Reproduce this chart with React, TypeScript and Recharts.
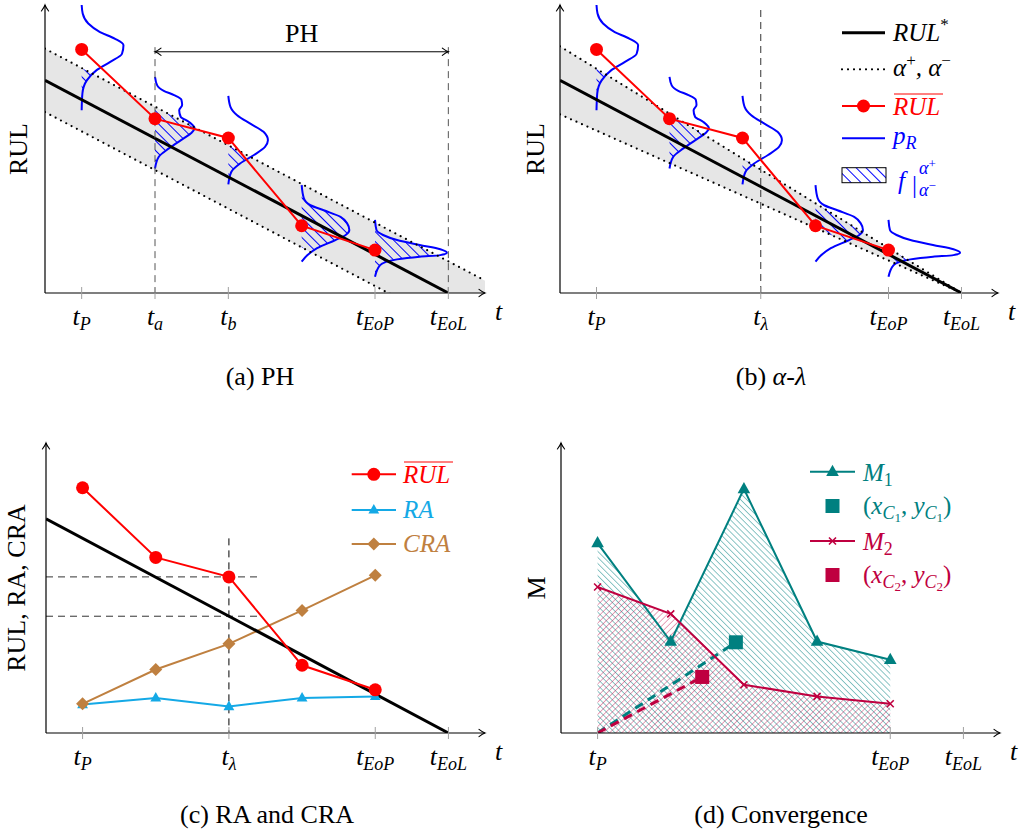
import React from "react";
import {
  ComposedChart,
  Line,
  Area,
  Scatter,
  XAxis,
  YAxis,
  ReferenceLine,
  Legend,
  Curve,
} from "recharts";

const FONT = "'Liberation Serif', 'DejaVu Serif', serif";
const RED = "#ff0000";
const BLUE = "#0000ff";
const TEAL = "#008080";
const PURPLE = "#bf0040";
const CYAN = "#14a9e6";
const BROWN = "#bf8040";
const GRAY = "#e6e6e6";

const T_DOMAIN: [number, number] = [0.5, 6.5];
const R_DOMAIN: [number, number] = [0, 7.45];

// prediction instants: t_P = 1 ... t_EoP = 5, t_EoL = 6
const predT = [1, 2, 3, 4, 5];
const rulMean = [6.3, 4.51, 4.01, 1.74, 1.11];
const raVals = [0.73, 0.9, 0.68, 0.9, 0.94];
const craVals = [0.75, 1.63, 2.29, 3.15, 4.05];
const m1Vals = [4.88, 2.35, 6.27, 2.35, 1.88];
const m2Vals = [3.75, 3.06, 1.24, 0.94, 0.75];

// true RUL
const trueT = [0.5, 6];
const trueR = [5.5, 0];

// PH panel: constant alpha bounds
const phBandT = [0.5, 6.5];
const phUpper = [6.32, 0.32];
const phLower = [4.68, -1.32];
// alpha-lambda panel: cone bounds
const alBandT = [0.5, 6];
const alUpper = [6.38, 0];
const alLower = [4.62, 0];

// pdf outlines, top to bottom: [RUL, width in t units]
const pdf1 = [[7.45, 0], [7.23, 0.014], [6.97, 0.09], [6.75, 0.25], [6.58, 0.45], [6.41, 0.57], [6.19, 0.55], [5.98, 0.39], [5.76, 0.2], [5.5, 0.07], [5.16, 0.01], [4.73, 0]];
const pdf2 = [[5.59, 0], [5.37, 0.03], [5.23, 0.12], [5.12, 0.26], [5.0, 0.36], [4.86, 0.37], [4.73, 0.33], [4.56, 0.35], [4.43, 0.46], [4.26, 0.54], [4.13, 0.49], [3.95, 0.35], [3.74, 0.19], [3.52, 0.05], [3.22, 0]];
const pdf3 = [[5.1, 0], [4.81, 0.03], [4.6, 0.12], [4.38, 0.3], [4.17, 0.48], [3.95, 0.54], [3.78, 0.5], [3.57, 0.35], [3.35, 0.16], [3.13, 0.04], [2.81, 0]];
const pdf4 = [[2.79, 0], [2.45, 0.03], [2.27, 0.12], [2.14, 0.3], [1.97, 0.53], [1.8, 0.62], [1.63, 0.65], [1.5, 0.6], [1.37, 0.46], [1.16, 0.21], [0.98, 0.08], [0.81, 0]];
const pdf5 = [[1.89, 0], [1.63, 0.02], [1.5, 0.11], [1.37, 0.3], [1.24, 0.61], [1.13, 0.89], [1.04, 0.98], [0.98, 0.89], [0.94, 0.61], [0.87, 0.3], [0.72, 0.07], [0.42, 0]];
const pdfs = [pdf1, pdf2, pdf3, pdf4, pdf5];

// centroids of the convergence areas
const centroidT = [2.89, 2.43];
const centroidR = [2.33, 1.44];

// dashed guides
const tLambdaB = 3.25;
const tLambdaC = 3;

const ticksPH = [1, 2, 3, 5, 6];
const labelsPH = ["P", "a", "b", "EoP", "EoL"];
const ticksAL = [1, tLambdaB, 5, 6];
const labelsAL = ["P", "λ", "EoP", "EoL"];
const ticksRA = [1, tLambdaC, 5, 6];
const labelsRA = ["P", "λ", "EoP", "EoL"];
const ticksCV = [1, 5, 6];
const labelsCV = ["P", "EoP", "EoL"];

type Pt = { t: number; r: number };
const toPts = (ts: number[], rs: number[]): Pt[] => ts.map((t, i) => ({ t, r: rs[i] }));
const pdfPts = (t0: number, shape: number[][]): Pt[] => shape.map(([r, w]) => ({ t: t0 + w, r }));

const phBand = [...toPts(phBandT, phUpper), ...toPts(phBandT, phLower).reverse()];
const alBand = [...toPts(alBandT, alUpper), ...toPts(alBandT, alLower).reverse()];

const ital = { fontFamily: FONT, fontStyle: "italic", fontSize: 25 } as const;

const Arrow = ({ id }: { id: string }) => (
  <marker id={id} viewBox="-8 -5 10 10" refX={0} refY={0} markerWidth={10} markerHeight={10}
    markerUnits="userSpaceOnUse" orient="auto-start-reverse" style={{ overflow: "visible" }}>
    <path d="M-6,-3.6 Q-2.4,-0.8 0,0 Q-2.4,0.8 -6,3.6" fill="none" stroke="#000" strokeWidth={1.1} strokeLinecap="round" />
  </marker>
);

const Hatch = ({ id, color, gap, angle, width, opacity = 1 }: { id: string; color: string; gap: number; angle: number; width: number; opacity?: number }) => (
  <pattern id={id} width={gap} height={gap} patternUnits="userSpaceOnUse" patternTransform={`rotate(${angle})`}>
    <line x1={gap / 2} y1={0} x2={gap / 2} y2={gap} stroke={color} strokeWidth={width} strokeOpacity={opacity} />
  </pattern>
);

const TimeTick = (props: any) => {
  const { x, y, payload, ticks, labels } = props;
  const i = ticks.indexOf(payload.value);
  return (
    <g>
      <line x1={x} x2={x} y1={y - 6} y2={y + 6} stroke="#a0a0a0" strokeWidth={1} />
      <text x={x} y={y + 32} textAnchor="middle" fontFamily={FONT} fontStyle="italic" fontSize={26} fill="#000">
        t<tspan fontSize={18} dy={5}>{labels[i]}</tspan>
      </text>
    </g>
  );
};

const XLabel = (props: any) => {
  const vb = props.viewBox || { x: 0, y: 0, width: 0, height: 0 };
  return (
    <text x={vb.x + vb.width + 10} y={vb.y + 27} fontFamily={FONT} fontStyle="italic" fontSize={26} fill="#000">t</text>
  );
};

const YLabel = (props: any) => {
  const vb = props.viewBox || { x: 0, y: 0, width: 0, height: 0 };
  const cx = vb.x + vb.width + props.dx;
  const cy = vb.y + vb.height / 2;
  return (
    <text x={cx} y={cy} transform={`rotate(-90 ${cx} ${cy})`} textAnchor="middle" dominantBaseline="central"
      fontFamily={FONT} fontSize={26} fill="#000">{props.text}</text>
  );
};

const timeAxis = (ticks: number[], labels: string[], arrow: string) => (
  <XAxis type="number" dataKey="t" domain={T_DOMAIN} allowDataOverflow ticks={ticks} interval={0}
    height={20} tickSize={0} tickMargin={0} tickLine={false}
    axisLine={{ stroke: "#000", strokeWidth: 1.2, markerEnd: `url(#${arrow})` }}
    tick={<TimeTick ticks={ticks} labels={labels} />}
    label={{ content: (p: any) => <XLabel {...p} /> }} />
);

const valueAxis = (text: string, dx: number, arrow: string) => (
  <YAxis type="number" dataKey="r" domain={R_DOMAIN} allowDataOverflow width={20} tick={false} tickLine={false}
    axisLine={{ stroke: "#000", strokeWidth: 1.2, markerStart: `url(#${arrow})` }}
    label={{ content: (p: any) => <YLabel {...p} text={text} dx={dx} /> }} />
);

const noShape = () => <g />;

const bandLine = (clipId: string) => (p: any) => {
  const d = p.points.map((q: any, i: number) => `${i ? "L" : "M"}${q.x},${q.y}`).join(" ") + " Z";
  return (
    <g>
      <clipPath id={clipId}><path d={d} /></clipPath>
      <path d={d} fill={GRAY} stroke="none" />
    </g>
  );
};

const hatchLine = (clipId: string, fillId: string) => (p: any) => (
  <g clipPath={`url(#${clipId})`}>
    <Curve type="monotoneY" points={p.points} fill={`url(#${fillId})`} stroke="none" />
  </g>
);

const triDot = (color: string, s: number) => (p: any) => (
  <path key={`tri${p.index}`} d={`M${p.cx},${p.cy - s}L${p.cx + s * 0.9},${p.cy + s * 0.6}L${p.cx - s * 0.9},${p.cy + s * 0.6}Z`} fill={color} />
);
const diaDot = (color: string, s: number) => (p: any) => (
  <path key={`dia${p.index}`} d={`M${p.cx},${p.cy - s}L${p.cx + s},${p.cy}L${p.cx},${p.cy + s}L${p.cx - s},${p.cy}Z`} fill={color} />
);
const crossDot = (color: string, s: number) => (p: any) => (
  <path key={`x${p.index}`} d={`M${p.cx - s},${p.cy - s}L${p.cx + s},${p.cy + s}M${p.cx - s},${p.cy + s}L${p.cx + s},${p.cy - s}`} stroke={color} strokeWidth={1.6} fill="none" />
);
const squareShape = (color: string) => (p: any) => (
  <rect x={p.cx - 7} y={p.cy - 7} width={14} height={14} fill={color} />
);

const RulBar = ({ x, y, color }: { x: number; y: number; color: string }) => (
  <g>
    <line x1={x + 1} x2={x + 50} y1={y - 21} y2={y - 21} stroke={color} strokeWidth={1} />
    <text x={x} y={y} {...ital} fill={color}>RUL</text>
  </g>
);

const LegendPH = () => (
  <svg width={193} height={195} style={{ overflow: "visible", display: "block" }}>
    <defs><Hatch id="hatchLeg" color={BLUE} gap={7} angle={-45} width={1} /></defs>
    <line x1={10} x2={53} y1={22.7} y2={22.7} stroke="#000" strokeWidth={3} />
    <text x={61} y={31} {...ital} fill="#000">RUL<tspan dy={-11} fontSize={17} fontStyle="normal">*</tspan></text>
    <line x1={10} x2={53} y1={59.3} y2={59.3} stroke="#000" strokeWidth={2.2} strokeDasharray="0 6" strokeLinecap="round" />
    <text x={61} y={66} {...ital} fill="#000">
      α<tspan dy={-10} fontSize={17} fontStyle="normal">+</tspan>
      <tspan dy={10}>, α</tspan>
      <tspan dy={-10} fontSize={17} fontStyle="normal">−</tspan>
    </text>
    <line x1={10} x2={53} y1={96} y2={96} stroke={RED} strokeWidth={2} />
    <circle cx={31.5} cy={96} r={6.5} fill={RED} />
    <RulBar x={61} y={105} color={RED} />
    <line x1={10} x2={53} y1={128.3} y2={128.3} stroke={BLUE} strokeWidth={2} />
    <text x={61} y={134} {...ital} fill={BLUE}>p<tspan dy={5} fontSize={18}>R</tspan></text>
    <rect x={10} y={157.7} width={44} height={15} fill="url(#hatchLeg)" stroke="#000" strokeWidth={1} />
    <text x={66} y={179} {...ital} fill={BLUE}>f</text>
    <text x={80} y={183} fontFamily={FONT} fontSize={25} fill={BLUE}>|</text>
    <text x={87} y={164} {...ital} fontSize={18} fill={BLUE}>α<tspan dy={-6} fontSize={13} fontStyle="normal">+</tspan></text>
    <text x={87} y={186} {...ital} fontSize={18} fill={BLUE}>α<tspan dy={-6} fontSize={13} fontStyle="normal">−</tspan></text>
  </svg>
);

const LegendRA = () => (
  <svg width={140} height={100} style={{ overflow: "visible", display: "block" }}>
    <line x1={11.7} x2={56} y1={14.3} y2={14.3} stroke={RED} strokeWidth={2} />
    <circle cx={33.8} cy={14.3} r={6.5} fill={RED} />
    <RulBar x={63} y={23} color={RED} />
    <line x1={11.7} x2={56} y1={50} y2={50} stroke={CYAN} strokeWidth={2} />
    {triDot(CYAN, 6)({ cx: 33.8, cy: 50, index: 0 })}
    <text x={63} y={58} {...ital} fill={CYAN}>RA</text>
    <line x1={11.7} x2={56} y1={84} y2={84} stroke={BROWN} strokeWidth={2} />
    {diaDot(BROWN, 6.5)({ cx: 33.8, cy: 84, index: 0 })}
    <text x={63} y={92} {...ital} fill={BROWN}>CRA</text>
  </svg>
);

const CentroidLabel = ({ y, idx, color }: { y: number; idx: string; color: string }) => (
  <text x={61} y={y} fontFamily={FONT} fontSize={25} fill={color}>
    (<tspan fontStyle="italic">x</tspan>
    <tspan dy={5} fontSize={18} fontStyle="italic">C</tspan>
    <tspan dy={3} fontSize={13}>{idx}</tspan>
    <tspan dy={-8}>, </tspan>
    <tspan fontStyle="italic">y</tspan>
    <tspan dy={5} fontSize={18} fontStyle="italic">C</tspan>
    <tspan dy={3} fontSize={13}>{idx}</tspan>
    <tspan dy={-8}>)</tspan>
  </text>
);

const LegendCV = () => (
  <svg width={190} height={135} style={{ overflow: "visible", display: "block" }}>
    <line x1={8} x2={53} y1={11.7} y2={11.7} stroke={TEAL} strokeWidth={2} />
    {triDot(TEAL, 7)({ cx: 30.5, cy: 11.7, index: 0 })}
    <text x={61} y={21} {...ital} fill={TEAL}>M<tspan dy={5} fontSize={18} fontStyle="normal">1</tspan></text>
    <rect x={23.5} y={39} width={14} height={14} fill={TEAL} />
    <CentroidLabel y={54} idx="1" color={TEAL} />
    <line x1={8} x2={53} y1={81} y2={81} stroke={PURPLE} strokeWidth={2} />
    {crossDot(PURPLE, 3.5)({ cx: 30.5, cy: 81, index: 0 })}
    <text x={61} y={90} {...ital} fill={PURPLE}>M<tspan dy={5} fontSize={18} fontStyle="normal">2</tspan></text>
    <rect x={23.5} y={108} width={14} height={14} fill={PURPLE} />
    <CentroidLabel y={123} idx="2" color={PURPLE} />
  </svg>
);

const pdfLayers = (clipId: string, fillId: string) => [
  ...pdfs.map((s, i) => (
    <Scatter key={`h${i}`} data={pdfPts(predT[i], s)} line={hatchLine(clipId, fillId)} shape={noShape}
      isAnimationActive={false} zIndex={120} />
  )),
  ...pdfs.map((s, i) => (
    <Line key={`p${i}`} data={pdfPts(predT[i], s)} dataKey="r" type="monotoneY" stroke={BLUE} strokeWidth={2}
      dot={false} activeDot={false} isAnimationActive={false} zIndex={130} />
  )),
];

const rulLines = (upper: number[], lower: number[], bandT: number[]) => [
  <Line key="true" data={toPts(trueT, trueR)} dataKey="r" stroke="#000" strokeWidth={3} dot={false}
    activeDot={false} isAnimationActive={false} zIndex={140} />,
  <Line key="up" data={toPts(bandT, upper)} dataKey="r" stroke="#000" strokeWidth={2.2} strokeDasharray="0 6"
    strokeLinecap="round" dot={false} activeDot={false} isAnimationActive={false} zIndex={150} />,
  <Line key="lo" data={toPts(bandT, lower)} dataKey="r" stroke="#000" strokeWidth={2.2} strokeDasharray="0 6"
    strokeLinecap="round" dot={false} activeDot={false} isAnimationActive={false} zIndex={150} />,
];

const meanLine = (
  <Line data={toPts(predT, rulMean)} dataKey="r" stroke={RED} strokeWidth={2}
    dot={{ r: 6.5, fill: RED, stroke: RED, strokeWidth: 0 }} activeDot={false} isAnimationActive={false} zIndex={170} />
);

function PanelPH() {
  return (
    <ComposedChart width={512} height={400} margin={{ top: 5, right: 27, bottom: 87, left: 25 }}>
      <defs>
        <Arrow id="arrA" />
        <Hatch id="hatchA" color={BLUE} gap={7} angle={-45} width={1} />
      </defs>
      {timeAxis(ticksPH, labelsPH, "arrA")}
      {valueAxis("RUL", -27, "arrA")}
      <Scatter data={phBand} line={bandLine("bandClipA")} shape={noShape} isAnimationActive={false} zIndex={110} />
      {pdfLayers("bandClipA", "hatchA")}
      {rulLines(phUpper, phLower, phBandT)}
      <ReferenceLine segment={[{ x: 2, y: 6.36 }, { x: 2, y: 0 }]} stroke="#555" strokeDasharray="7 5" strokeWidth={1} zIndex={160} />
      <ReferenceLine segment={[{ x: 6, y: 6.36 }, { x: 6, y: 0 }]} stroke="#555" strokeDasharray="7 5" strokeWidth={1} zIndex={160} />
      <ReferenceLine segment={[{ x: 2, y: 6.24 }, { x: 6, y: 6.24 }]} stroke="#000" strokeWidth={1}
        markerStart="url(#arrA)" markerEnd="url(#arrA)" zIndex={160}
        label={{ value: "PH", position: "top", offset: 10, fontSize: 26, fontFamily: FONT, fill: "#000" }} />
      {meanLine}
    </ComposedChart>
  );
}

function PanelAL() {
  return (
    <ComposedChart width={512} height={400} margin={{ top: 5, right: 26, bottom: 87, left: 28 }}>
      <defs>
        <Arrow id="arrB" />
        <Hatch id="hatchB" color={BLUE} gap={7} angle={-45} width={1} />
      </defs>
      {timeAxis(ticksAL, labelsAL, "arrB")}
      {valueAxis("RUL", -25, "arrB")}
      <Scatter data={alBand} line={bandLine("bandClipB")} shape={noShape} isAnimationActive={false} zIndex={110} />
      {pdfLayers("bandClipB", "hatchB")}
      {rulLines(alUpper, alLower, alBandT)}
      <ReferenceLine x={tLambdaB} stroke="#333" strokeDasharray="7 5" strokeWidth={1} zIndex={160} />
      {meanLine}
      <Legend content={() => <LegendPH />} layout="horizontal" verticalAlign="middle" align="center"
        wrapperStyle={{ left: 320, top: 10, width: 193, height: 195 }} />
    </ComposedChart>
  );
}

function PanelRA() {
  return (
    <ComposedChart width={512} height={415} margin={{ top: 23, right: 27, bottom: 82, left: 26 }}>
      <defs>
        <Arrow id="arrC" />
      </defs>
      {timeAxis(ticksRA, labelsRA, "arrC")}
      {valueAxis("RUL, RA, CRA", -30, "arrC")}
      <ReferenceLine segment={[{ x: 0.5, y: 4.01 }, { x: 3.45, y: 4.01 }]} stroke="#333" strokeDasharray="7 5" strokeWidth={1} zIndex={110} />
      <ReferenceLine segment={[{ x: 0.5, y: 3 }, { x: 3.45, y: 3 }]} stroke="#333" strokeDasharray="7 5" strokeWidth={1} zIndex={110} />
      <ReferenceLine segment={[{ x: tLambdaC, y: 5 }, { x: tLambdaC, y: 0 }]} stroke="#000" strokeDasharray="7 5" strokeWidth={1} zIndex={110} />
      <Line data={toPts(predT, raVals)} dataKey="r" stroke={CYAN} strokeWidth={2} dot={triDot(CYAN, 6)}
        activeDot={false} isAnimationActive={false} zIndex={120} />
      <Line data={toPts(predT, craVals)} dataKey="r" stroke={BROWN} strokeWidth={2} dot={diaDot(BROWN, 6.5)}
        activeDot={false} isAnimationActive={false} zIndex={130} />
      <Line data={toPts(trueT, trueR)} dataKey="r" stroke="#000" strokeWidth={3} dot={false}
        activeDot={false} isAnimationActive={false} zIndex={140} />
      {meanLine}
      <Legend content={() => <LegendRA />} layout="horizontal" verticalAlign="middle" align="center"
        wrapperStyle={{ left: 340, top: 40, width: 140, height: 100 }} />
    </ComposedChart>
  );
}

function PanelCV() {
  const c1 = [{ t: predT[0], r: 0 }, { t: centroidT[0], r: centroidR[0] }];
  const c2 = [{ t: predT[0], r: 0 }, { t: centroidT[1], r: centroidR[1] }];
  return (
    <ComposedChart width={512} height={415} margin={{ top: 23, right: 24, bottom: 82, left: 29 }}>
      <defs>
        <Arrow id="arrD" />
        <Hatch id="hatchTeal" color={TEAL} gap={4.3} angle={-45} width={0.6} opacity={0.75} />
        <Hatch id="hatchPurple" color={PURPLE} gap={4.3} angle={45} width={0.6} opacity={0.6} />
      </defs>
      {timeAxis(ticksCV, labelsCV, "arrD")}
      {valueAxis("M", -25, "arrD")}
      <Area data={toPts(predT, m1Vals)} dataKey="r" type="linear" baseValue={0} fill="url(#hatchTeal)" fillOpacity={1}
        stroke="none" dot={false} activeDot={false} isAnimationActive={false} zIndex={110} />
      <Area data={toPts(predT, m2Vals)} dataKey="r" type="linear" baseValue={0} fill="url(#hatchPurple)" fillOpacity={1}
        stroke="none" dot={false} activeDot={false} isAnimationActive={false} zIndex={120} />
      <Line data={c1} dataKey="r" stroke={TEAL} strokeWidth={3} strokeDasharray="9 6" dot={false}
        activeDot={false} isAnimationActive={false} zIndex={130} />
      <Line data={c2} dataKey="r" stroke={PURPLE} strokeWidth={3} strokeDasharray="9 6" dot={false}
        activeDot={false} isAnimationActive={false} zIndex={130} />
      <Line data={toPts(predT, m1Vals)} dataKey="r" stroke={TEAL} strokeWidth={2} dot={triDot(TEAL, 7)}
        activeDot={false} isAnimationActive={false} zIndex={140} />
      <Line data={toPts(predT, m2Vals)} dataKey="r" stroke={PURPLE} strokeWidth={2} dot={crossDot(PURPLE, 3.5)}
        activeDot={false} isAnimationActive={false} zIndex={140} />
      <Scatter data={[{ t: centroidT[0], r: centroidR[0] }]} shape={squareShape(TEAL)} isAnimationActive={false} zIndex={150} />
      <Scatter data={[{ t: centroidT[1], r: centroidR[1] }]} shape={squareShape(PURPLE)} isAnimationActive={false} zIndex={150} />
      <Legend content={() => <LegendCV />} layout="horizontal" verticalAlign="middle" align="center"
        wrapperStyle={{ left: 290, top: 40, width: 190, height: 135 }} />
    </ComposedChart>
  );
}

const Caption = ({ x, y, children }: { x: number; y: number; children: React.ReactNode }) => (
  <div style={{ position: "absolute", left: x - 150, top: y - 15, width: 300, height: 30, lineHeight: "30px",
    textAlign: "center", fontFamily: FONT, fontSize: 26, color: "#000" }}>
    {children}
  </div>
);

export default function App() {
  return (
    <div style={{ position: "absolute", left: 0, top: 0, width: 1025, height: 835, background: "#fff", overflow: "hidden" }}>
      <div style={{ position: "absolute", left: 0, top: 0 }}><PanelPH /></div>
      <div style={{ position: "absolute", left: 512, top: 0 }}><PanelAL /></div>
      <div style={{ position: "absolute", left: 0, top: 420 }}><PanelRA /></div>
      <div style={{ position: "absolute", left: 512, top: 420 }}><PanelCV /></div>
      <Caption x={260} y={377}>(a) PH</Caption>
      <Caption x={771} y={377}>(b) <i>α</i>-<i>λ</i></Caption>
      <Caption x={267} y={815}>(c) RA and CRA</Caption>
      <Caption x={781} y={815}>(d) Convergence</Caption>
    </div>
  );
}
